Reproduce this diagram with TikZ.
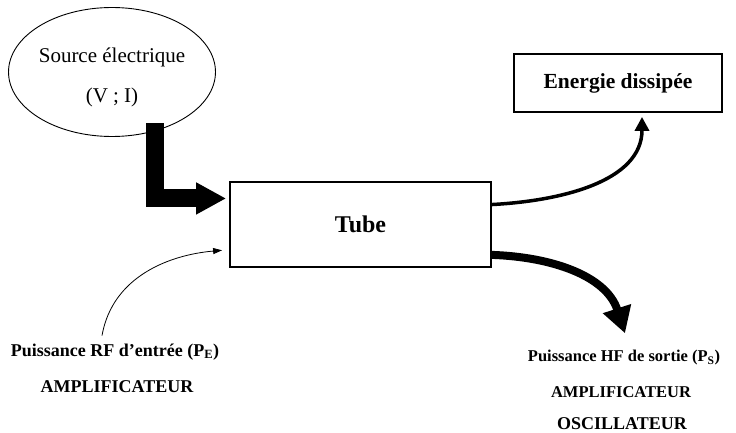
\documentclass[tikz,border=0pt]{standalone}
\usepackage{fontspec}
\setmainfont{Liberation Serif}
\usetikzlibrary{shapes.geometric,arrows.meta,calc}
\begin{document}
\begin{tikzpicture}[x=1pt,y=1pt,
  boxnode/.style={draw,line width=1.8pt,rectangle,inner sep=0pt},
  lbl/.style={font=\fontsize{16.5}{19}\selectfont\bfseries,inner sep=0pt},
  lblbig/.style={font=\fontsize{18}{21}\selectfont\bfseries,inner sep=0pt},
]
\useasboundingbox (0,0) rectangle (736,-433);
% nodes
\node[draw,ellipse,line width=0.9pt,minimum width=200pt,minimum height=129pt,inner sep=0pt,align=center,
      font=\fontsize{21}{25}\selectfont] (src) at (112,-72) {\rule{0pt}{26pt}Source électrique\\[15pt](V ; I)};
\node[boxnode,minimum width=261pt,minimum height=85pt,font=\fontsize{24}{28}\selectfont\bfseries] (tube) at (360.5,-224.5) {Tube};
\node[boxnode,minimum width=208pt,minimum height=58pt,font=\fontsize{21.5}{25}\selectfont\bfseries] (en) at (618,-83) {Energie dissipée};
\node[lblbig] (pe) at (115,-352) {Puissance RF d'entrée (P\textsubscript{E})};
\node[lblbig] (ampL) at (117,-387) {AMPLIFICATEUR};
\node[lbl] (ps) at (624,-358) {Puissance HF de sortie (P\textsubscript{S})};
\node[lbl] (ampR) at (621,-392) {AMPLIFICATEUR};
\node[lblbig] (osc) at (622,-424) {OSCILLATEUR};
% anchor points
\coordinate (tubeW1) at ($(tube.north west)!0.2!(tube.south west)$);
\coordinate (tubeW2) at ($(tube.north west)!0.79!(tube.south west)$);
\coordinate (tubeE1) at ($(tube.north east)!0.27!(tube.south east)$);
\coordinate (tubeE2) at ($(tube.north east)!0.85!(tube.south east)$);
\coordinate (peTop) at ($(pe.north)+(-13,8)$);
\coordinate (enIn) at ($(en.south)+(24,0)$);
\coordinate (psTop) at ($(ps.north)+(1,17)$);
% connectors
\draw[line width=18pt,-{Triangle[width=30pt,length=30pt]},shorten <=-8pt,shorten >=3pt]
  (src.-54) |- (tubeW1);
\draw[line width=0.8pt,-{Triangle[width=6pt,length=9pt]},shorten >=7pt]
  (peTop) to[out=80,in=185] (tubeW2);
\draw[line width=3.5pt,-{Triangle[width=14pt,length=14pt]},shorten >=4pt]
  (tubeE1) to[out=3,in=-90] (enIn);
\draw[line width=8pt,-{Triangle[width=28pt,length=26pt]}]
  (tubeE2) to[out=-2,in=108] (psTop);
\end{tikzpicture}
\end{document}
